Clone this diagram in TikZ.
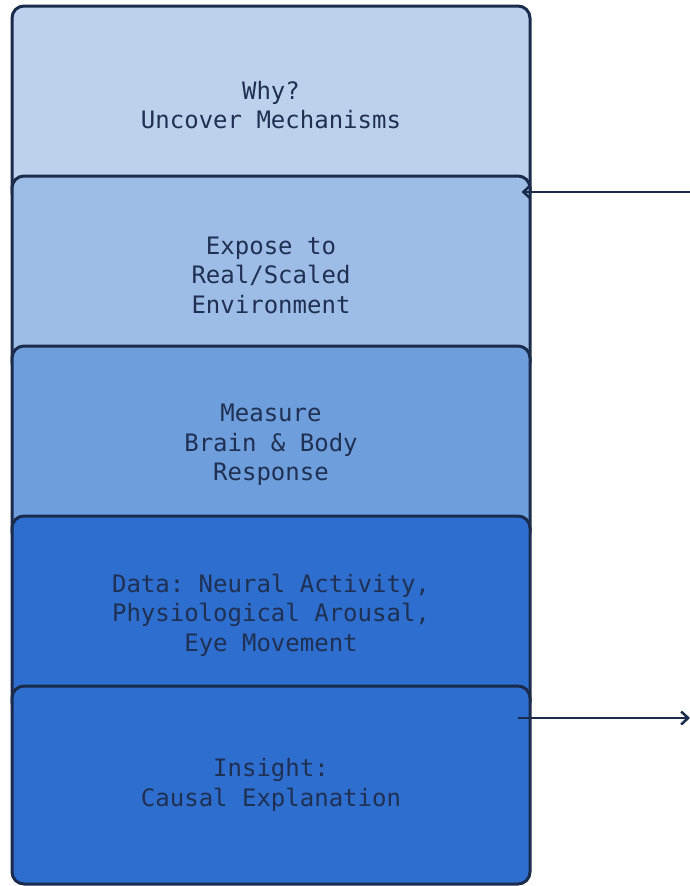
\documentclass[tikz,border=0pt]{standalone}
\usepackage{fontspec}
\setmonofont{DejaVu Sans Mono}
\usetikzlibrary{arrows.meta,positioning}
\definecolor{edgeblue}{HTML}{1B2B4B}
\definecolor{textblue}{HTML}{1F3052}
\definecolor{stageA}{HTML}{BCD2EC}
\definecolor{stageB}{HTML}{9DBCE6}
\definecolor{stageC}{HTML}{6E9EDC}
\definecolor{stageD}{HTML}{2E6ECF}
\tikzset{
	x=1pt,y=-1pt,
	stage/.style={draw=edgeblue,line width=3pt,rectangle,rounded corners=12pt,align=center,
		minimum width=518pt,minimum height=198pt,inner sep=0pt,text=textblue,
		font=\fontsize{24}{29.5}\selectfont\ttfamily},
	flow/.style={-{Straight Barb[length=7pt,width=13pt,line width=2.5pt]},draw=edgeblue,line width=2.5pt}
}
\begin{document}
\begin{tikzpicture}
			\useasboundingbox (0,0) rectangle (690,886);
			\node[stage,fill=stageA] (why) at (271,105) {Why?\\Uncover Mechanisms};
			\node[stage,fill=stageB] (expose) at (271,275) {Expose to\\Real/Scaled\\Environment};
			\node[stage,fill=stageC] (measure) at (271,445) {Measure\\Brain \& Body\\Response};
			\node[stage,fill=stageD] (data) at (271,615) {Data: Neural Activity,\\Physiological Arousal,\\Eye Movement};
			\node[stage,fill=stageD] (insight) at (271,785) {Insight:\\Causal Explanation};
			\coordinate (feedin) at (690,192);
			\coordinate (feedout) at (690,718);
			\draw[flow] (feedin) -- ([xshift=-10pt]feedin -| expose.east);
			\draw[flow] ([xshift=-14pt]feedout -| insight.east) -- (feedout);
		\end{tikzpicture}
\end{document}
